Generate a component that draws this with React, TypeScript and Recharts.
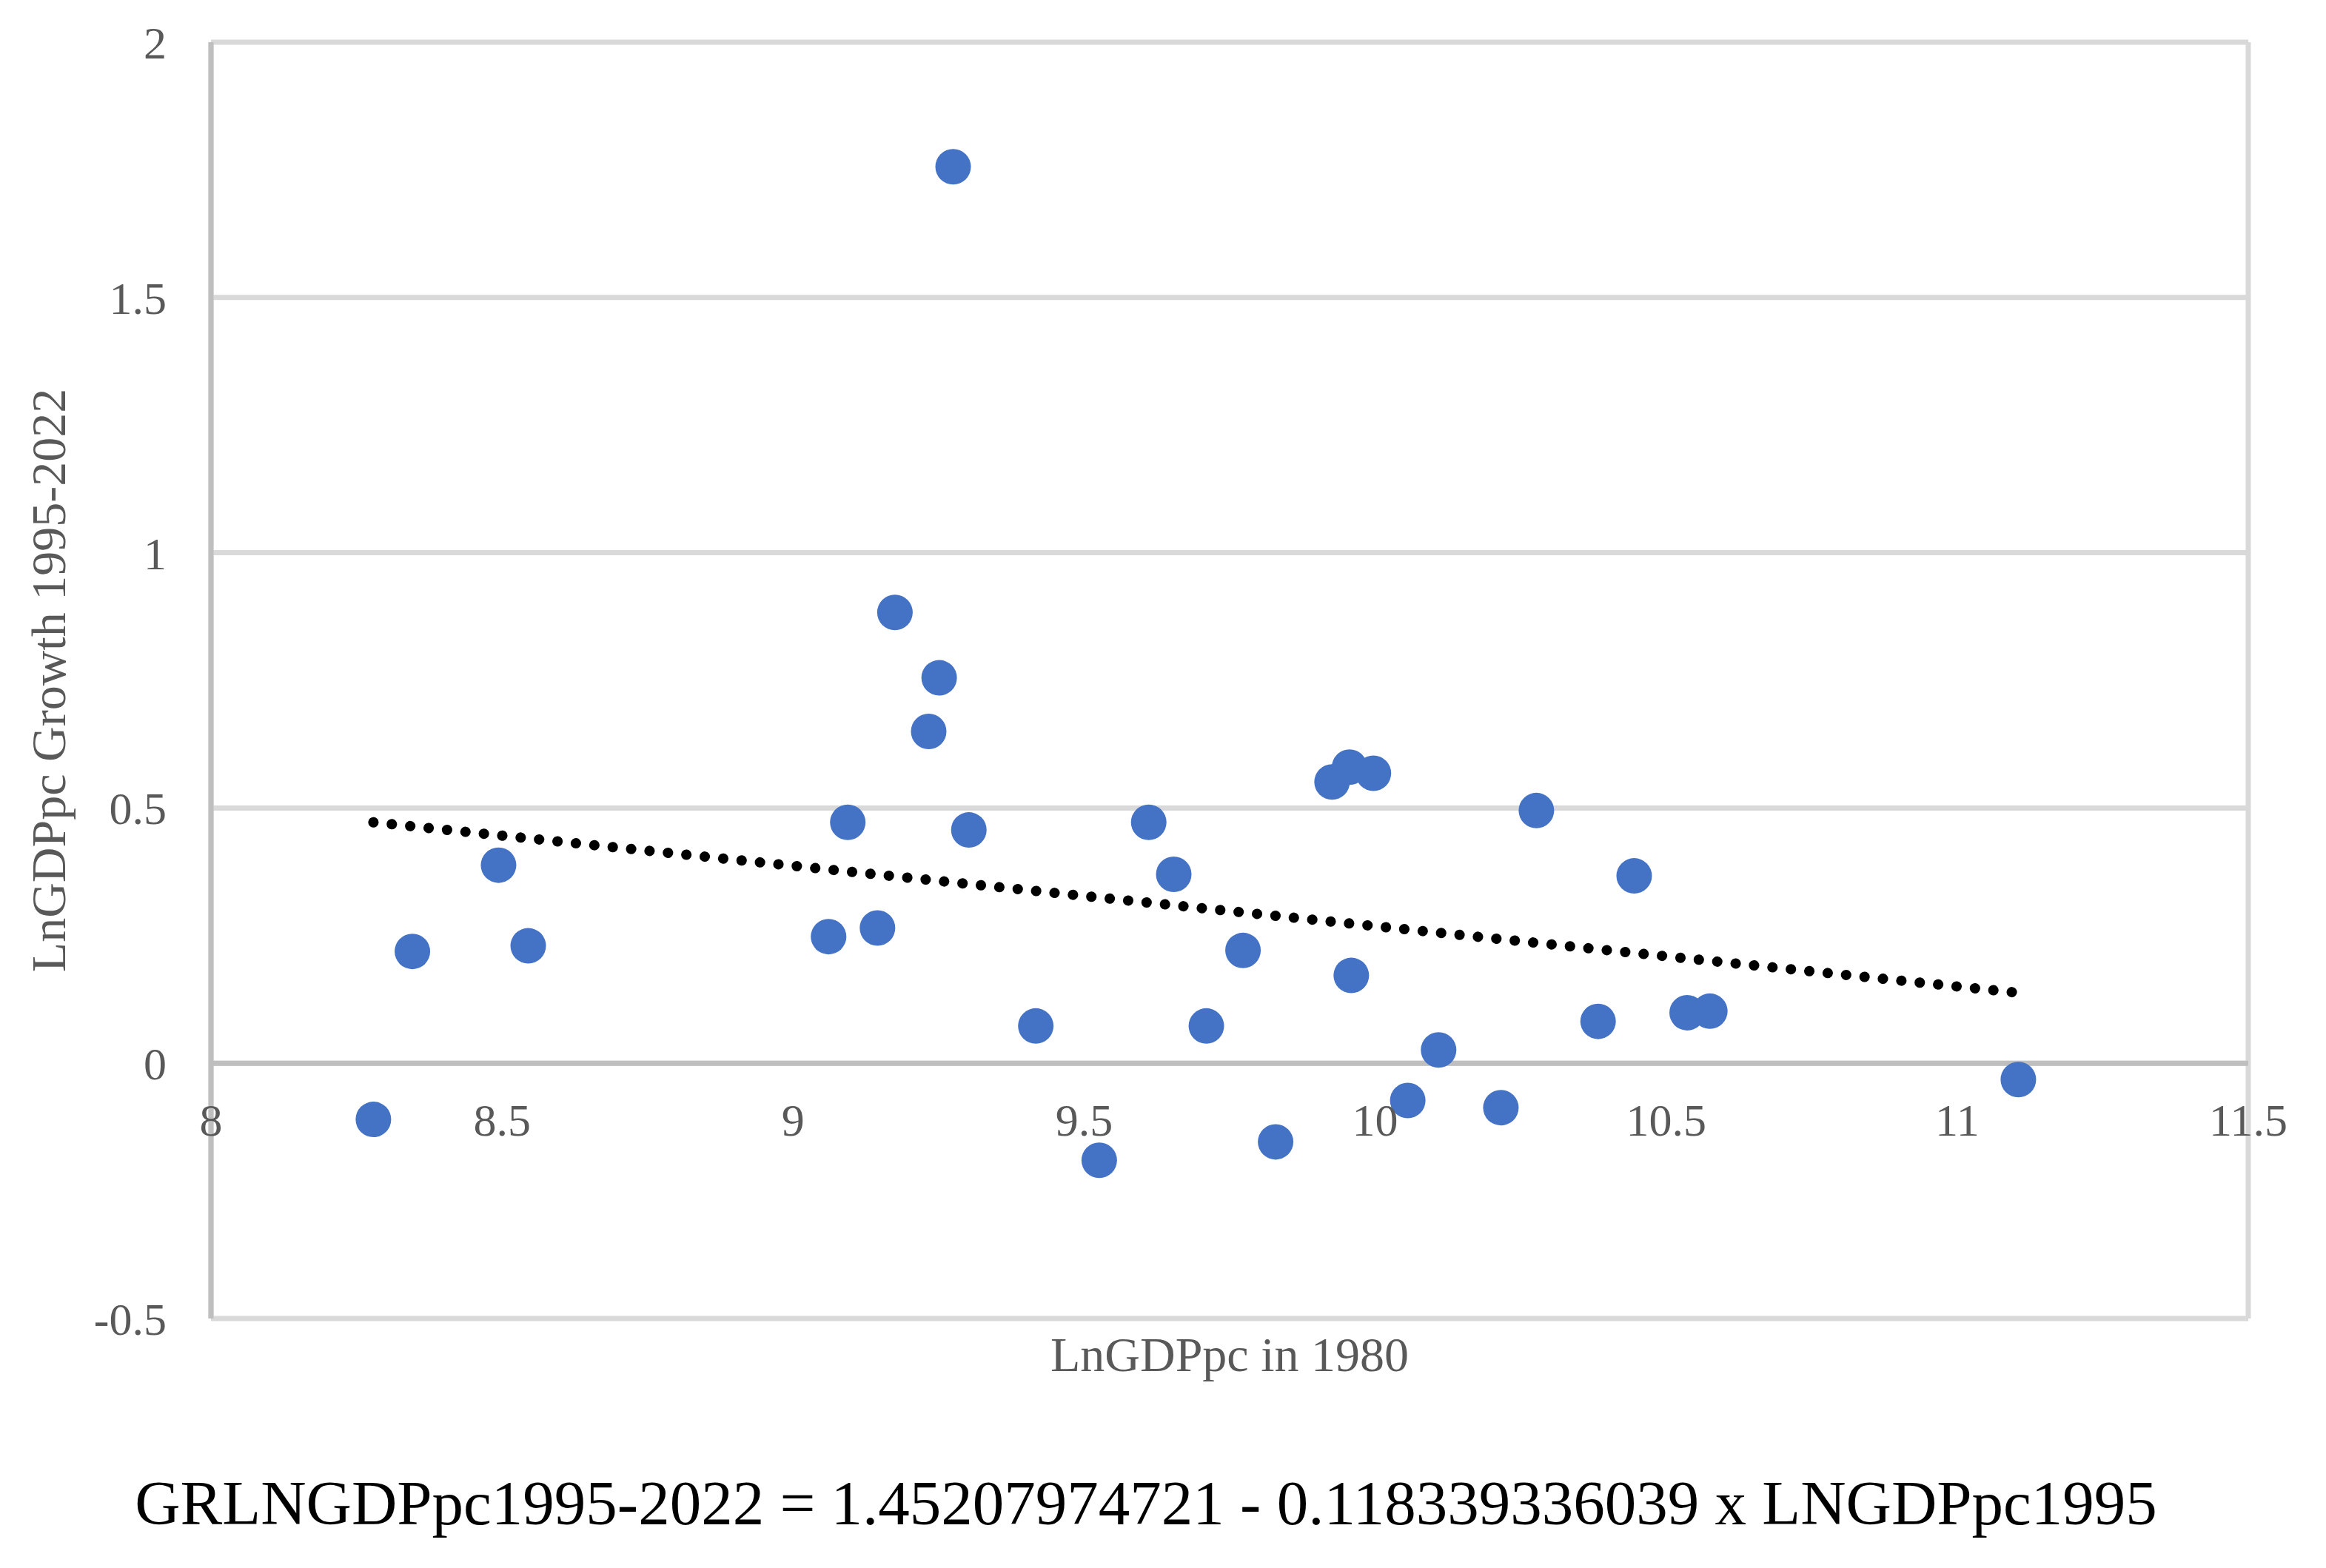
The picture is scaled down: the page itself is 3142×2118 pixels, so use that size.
import {
  ScatterChart,
  Scatter,
  XAxis,
  YAxis,
  CartesianGrid,
  ReferenceLine,
  ReferenceDot,
} from 'recharts'

// LnGDPpc in 1980 (x) vs LnGDPpc growth 1995-2022 (y)
const lnGdp1980 = [
  8.279, 8.346, 8.494, 8.545, 9.061, 9.094, 9.145, 9.175, 9.233, 9.251, 9.275,
  9.302, 9.417, 9.526, 9.611, 9.654, 9.71, 9.773, 9.829, 9.926, 9.956, 9.959,
  9.997, 10.056, 10.109, 10.216, 10.277, 10.383, 10.445, 10.536, 10.575, 11.105,
]
const growth = [
  -0.11, 0.219, 0.388, 0.23, 0.248, 0.472, 0.265, 0.883, 0.65, 0.755, 1.756,
  0.457, 0.073, -0.19, 0.472, 0.37, 0.073, 0.221, -0.154, 0.551, 0.58, 0.172,
  0.568, -0.073, 0.026, -0.087, 0.495, 0.082, 0.367, 0.099, 0.102, -0.032,
]

// linear trendline end points
const trendX = [8.279, 11.105]
const trendY = [0.472, 0.138]

const xTicks = [8, 8.5, 9, 9.5, 10, 10.5, 11, 11.5]
const yTicks = [-0.5, 0, 0.5, 1, 1.5, 2]

const xTitle = 'LnGDPpc in 1980'
const yTitle = 'LnGDPpc Growth 1995-2022'
const equation = 'GRLNGDPpc1995-2022 = 1.45207974721 - 0.118339336039 x LNGDPpc1995'

const points = lnGdp1980.map((x, i) => ({ x, y: growth[i] }))
const trend = trendX.map((x, i) => ({ x, y: trendY[i] }))

const FONT = '"Palatino Linotype", "Book Antiqua", "Liberation Serif", serif'
const GREY = '#595959'

function Dot(props: any) {
  return <circle cx={props.cx} cy={props.cy} r={24} fill="#4472C4" />
}

export default function App() {
  return (
    <div
      style={{
        position: 'absolute',
        left: 0,
        top: 0,
        width: 3142,
        height: 2118,
        background: '#fff',
        fontFamily: FONT,
      }}
    >
      <ScatterChart
        width={3142}
        height={2118}
        margin={{ top: 57, right: 105, bottom: 337, left: 0 }}
      >
        <CartesianGrid stroke="#d9d9d9" strokeWidth={7} />
        <XAxis
          type="number"
          dataKey="x"
          domain={[8, 11.5]}
          ticks={xTicks}
          tick={false}
          tickLine={false}
          axisLine={false}
          height={0}
        />
        <YAxis
          type="number"
          dataKey="y"
          domain={[-0.5, 2]}
          ticks={yTicks}
          width={285}
          tickLine={false}
          tickSize={0}
          tickMargin={60}
          axisLine={{ stroke: '#bfbfbf', strokeWidth: 7 }}
          tick={{ fill: GREY, fontSize: 62, fontFamily: FONT }}
        />
        <ReferenceLine y={0} stroke="#bfbfbf" strokeWidth={7} />
        {xTicks.map((t) => (
          <ReferenceDot
            key={t}
            x={t}
            y={0}
            r={0}
            fill="none"
            stroke="none"
            label={{
              value: String(t),
              position: 'bottom',
              offset: 54,
              fill: GREY,
              fontSize: 62,
              fontFamily: FONT,
            }}
          />
        ))}
        <Scatter
          data={points}
          shape={<Dot />}
          isAnimationActive={false}
        />
        <Scatter
          data={trend}
          shape={() => <g />}
          line={{
            stroke: '#000',
            strokeWidth: 14,
            strokeDasharray: '0.1 24.9',
            strokeLinecap: 'round',
          }}
          isAnimationActive={false}
        />
      </ScatterChart>
      <div
        style={{
          position: 'absolute',
          left: 1661,
          top: 1830,
          transform: 'translate(-50%, -50%)',
          whiteSpace: 'nowrap',
          color: GREY,
          fontSize: 66,
        }}
      >
        {xTitle}
      </div>
      <div
        style={{
          position: 'absolute',
          left: 66,
          top: 919,
          transform: 'translate(-50%, -50%) rotate(-90deg)',
          whiteSpace: 'nowrap',
          color: GREY,
          fontSize: 66,
        }}
      >
        {yTitle}
      </div>
      <div
        style={{
          position: 'absolute',
          left: 1548,
          top: 2030,
          transform: 'translate(-50%, -50%)',
          whiteSpace: 'nowrap',
          color: '#000',
          fontSize: 85,
        }}
      >
        {equation}
      </div>
    </div>
  )
}
